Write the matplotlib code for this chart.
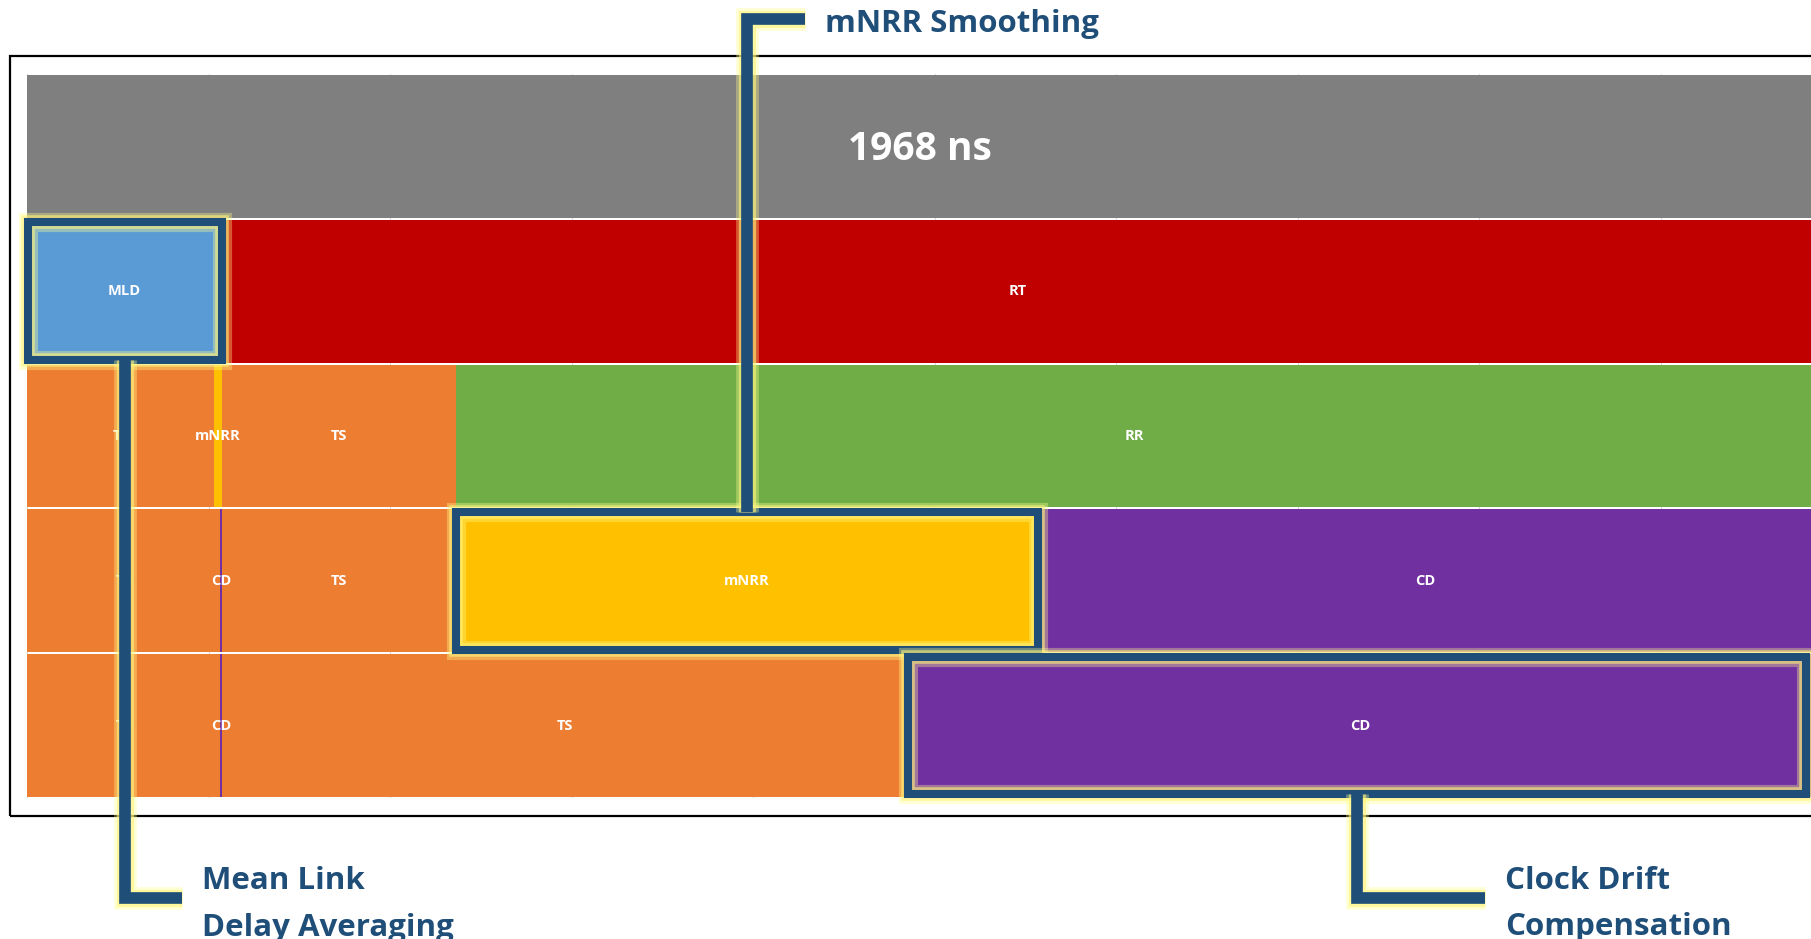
import matplotlib.pyplot as plt
from matplotlib.patches import Rectangle
from matplotlib.lines import Line2D
import matplotlib.patheffects as pe

plt.rcParams['font.family'] = ['Open Sans', 'DejaVu Sans']

# segment names and durations (ns) per row, top to bottom
seg_names = [
    ["1968 ns"],
    ["MLD", "RT"],
    ["TS", "mNRR", "TS", "RR"],
    ["TS", "CD", "TS", "mNRR", "CD"],
    ["TS", "CD", "TS", "CD"],
]
seg_ns = [
    [1968],
    [215, 1753],
    [206, 9, 258, 1495],
    [213, 1.5, 258.5, 641, 854],
    [213, 1.5, 756.5, 997],
]
colors = {
    "1968 ns": "#7F7F7F",
    "MLD": "#5B9BD5",
    "RT": "#C00000",
    "TS": "#ED7D31",
    "mNRR": "#FFC000",
    "RR": "#70AD47",
    "CD": "#7030A0",
}

# callouts: (row, segment index, text lines)
callouts = [
    (1, 0, ["Mean Link", "Delay Averaging"]),
    (3, 3, ["mNRR Smoothing"]),
    (4, 3, ["Clock Drift", "Compensation"]),
]

W, H = 1811, 939
navy = "#1F4E79"

fig = plt.figure(figsize=(W / 100, H / 100), dpi=100)
ax = fig.add_axes([27 / W, (H - 798) / H, (1813 - 27) / W, 724 / H])

for i, (names, vals) in enumerate(zip(seg_names, seg_ns)):
    left = 0
    for name, v in zip(names, vals):
        ax.barh(i, v, left=left, height=0.985, color=colors[name], zorder=2)
        if i == 0:
            ax.text(left + v / 2, i + 0.02, name, color="white", fontsize=28,
                    fontweight="bold", ha="center", va="center", zorder=3)
        else:
            ax.text(left + v / 2, i, name, color="white", fontsize=10.5,
                    fontweight="bold", ha="center", va="center", zorder=3)
        left += v

ax.set_xticks(range(0, 2001, 200))
ax.set_yticks([])
ax.set_xlim(0, 1968)
ax.set_ylim(4.5, -0.5)
ax.grid(axis="x", color="#D9D9D9", lw=0.8)
ax.set_axisbelow(True)
ax.tick_params(length=0, labelbottom=False, labelleft=False)
for s in ax.spines.values():
    s.set_visible(False)

# chart frame
fig.add_artist(Rectangle((10 / W, (H - 816) / H), 1.05, (816 - 56) / H,
                         fill=False, edgecolor="black", lw=1.6,
                         transform=fig.transFigure, zorder=1))


def to_px(x, y):
    # data -> reference pixel coords (origin top-left)
    dx, dy = ax.transData.transform((x, y))
    return dx, H - dy


def glow(lw):
    return [pe.Stroke(linewidth=lw + 8, foreground="#FFFF8C", alpha=0.35),
            pe.Stroke(linewidth=lw + 4, foreground="#FFF27A", alpha=0.6),
            pe.Normal()]


def fline(xs, ys, lw):
    ln = Line2D([x / W for x in xs], [1 - y / H for y in ys],
                transform=fig.transFigure, color=navy, lw=lw,
                solid_capstyle="butt", solid_joinstyle="miter", zorder=6,
                path_effects=glow(lw))
    fig.add_artist(ln)


# elbow layout: (elbow y, arm end x, text x, text baselines) in pixels
elbows = [
    (898, 182, 202, [889, 936]),
    (19, 805, 825, [32]),
    (898, 1485, 1505, [889, 935]),
]

for (row, seg, lines), (ey, ax_end, tx, tys) in zip(callouts, elbows):
    x0 = sum(seg_ns[row][:seg])
    x1 = x0 + seg_ns[row][seg]
    px0, py0 = to_px(x0, row - 0.475)
    px1, py1 = to_px(x1, row + 0.475)
    px0 = max(px0, 28)
    px1 = min(px1, W - 5)
    box = Rectangle((px0 / W, 1 - py1 / H), (px1 - px0) / W, (py1 - py0) / H,
                    fill=False, edgecolor=navy, lw=5.8, joinstyle="miter",
                    transform=fig.transFigure, zorder=6, path_effects=glow(5.8))
    fig.add_artist(box)
    xc = (px0 + px1) / 2
    ystart = py1 if ey > py1 else py0
    fline([xc, xc, ax_end], [ystart, ey, ey], 8.4)
    for line, ty in zip(lines, tys):
        fig.text(tx / W, 1 - ty / H, line, color=navy, fontsize=22.5,
                 fontweight="bold", ha="left", va="baseline", zorder=7)

fig.savefig("out.png", dpi=100)
